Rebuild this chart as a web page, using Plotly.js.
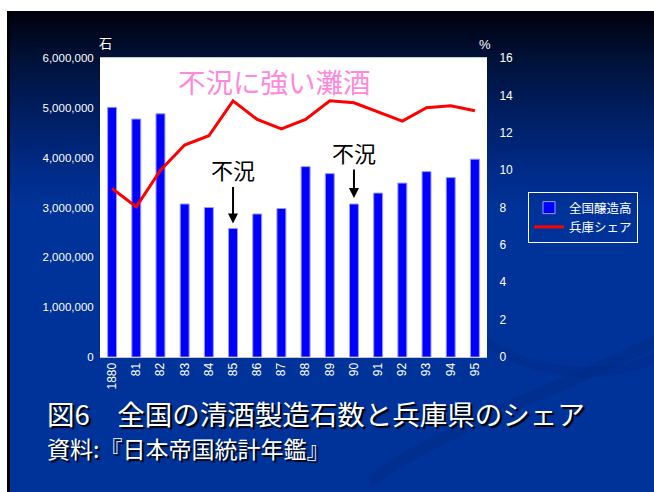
<!DOCTYPE html>
<html>
<head>
<meta charset="utf-8">
<script src="https://cdn.plot.ly/plotly-3.0.1.min.js"></script>
<style>
  html, body { margin: 0; padding: 0; width: 654px; height: 492px; overflow: hidden; background: #ffffff; }
  #bg { position: absolute; left: 7px; top: 11px; width: 647px; height: 481px;
        border-left: 3px solid #000000; box-sizing: border-box;
        background: linear-gradient(to bottom, #00000c 0px, #00123a 50px, #001f66 110px, #002b88 160px, #003399 200px, #003399 100%); }
  #bg svg { position: absolute; left: 0; top: 0; }
  #chart { position: absolute; left: 0; top: 0; width: 654px; height: 492px; }
  .shadowtxt text { text-shadow: 2px 2px 1px #000000; }
</style>
</head>
<body>
<div id="bg">
  <svg width="647" height="481" viewBox="0 0 647 481">
    <path d="M360,470 C430,420 520,390 647,330" stroke="#002b85" stroke-width="12" fill="none" opacity="0.45"/>
    <path d="M470,260 C430,300 470,350 560,360 C600,365 630,355 647,345" stroke="#002b85" stroke-width="10" fill="none" opacity="0.4"/>
  </svg>
</div>
<div id="chart"></div>
<script>
// ---- data ----
const years = ["1880","81","82","83","84","85","86","87","88","89","90","91","92","93","94","95"];
const nationalOutput = [5010000, 4775000, 4880000, 3070000, 3000000, 2580000, 2870000, 2980000,
                        3820000, 3680000, 3070000, 3290000, 3490000, 3720000, 3600000, 3970000];
const hyogoShare = [9.02, 8.03, 10.0, 11.34, 11.84, 13.71, 12.71, 12.2,
                    12.71, 13.71, 13.6, 13.12, 12.62, 13.34, 13.44, 13.18];
const seriesNames = ["全国醸造高", "兵庫シェア"];
const slumpYears = ["85", "90"];

const jp = '"Noto Sans CJK JP", "Noto Sans", sans-serif';
const latin = '"Liberation Sans", Arial, sans-serif';

const traces = [
  {
    type: 'bar', name: seriesNames[0], x: years, y: nationalOutput,
    marker: { color: '#0000ff', line: { color: '#9a9aff', width: 1 } },
    yaxis: 'y'
  },
  {
    type: 'scatter', mode: 'lines', name: seriesNames[1], x: years, y: hyogoShare,
    line: { color: '#ff0000', width: 3 }, yaxis: 'y2'
  }
];

function slumpAnn(yr, ay, standoff) {
  const i = years.indexOf(yr);
  return {
    x: i, y: nationalOutput[i], xref: 'x', yref: 'y',
    text: '不況', showarrow: true, arrowhead: 2, arrowsize: 1, arrowwidth: 2,
    arrowcolor: '#000000', ax: 0, ay: ay, standoff: standoff,
    font: { family: jp, size: 22, color: '#000000' }
  };
}

const layout = {
  width: 654, height: 492,
  margin: { l: 100, r: 167, t: 58, b: 135 },
  paper_bgcolor: 'rgba(0,0,0,0)',
  plot_bgcolor: '#ffffff',
  showlegend: true,
  bargap: 0.63,
  font: { family: latin, color: '#ffffff', size: 11 },
  xaxis: {
    type: 'category', range: [-0.5, years.length - 0.5], autorange: false,
    tickmode: 'array', tickvals: years, ticktext: years,
    tickangle: -90, tickfont: { family: latin, size: 12, color: '#ffffff' },
    showline: true, linecolor: '#c8c8c8', linewidth: 1, mirror: true,
    ticks: '', showgrid: false, zeroline: false
  },
  yaxis: {
    range: [0, 6000000], dtick: 1000000, tickformat: ',d',
    tickfont: { family: latin, size: 11.5, color: '#ffffff' },
    showgrid: false, zeroline: false, showline: false,
    ticks: 'outside', ticklen: 3, tickcolor: 'rgba(0,0,0,0)'
  },
  yaxis2: {
    overlaying: 'y', side: 'right', range: [0, 16], dtick: 2,
    tickfont: { family: latin, size: 12, color: '#ffffff' },
    showgrid: false, zeroline: false, showline: false,
    ticks: 'outside', ticklen: 9, tickcolor: 'rgba(0,0,0,0)'
  },
  legend: {
    xref: 'container', yref: 'container', x: 528 / 654, y: 1 - 192 / 492,
    xanchor: 'left', yanchor: 'top',
    bgcolor: 'rgba(0,0,0,0)', bordercolor: '#ffffff', borderwidth: 1,
    font: { family: jp, size: 12.5, color: '#ffffff' },
    tracegroupgap: 0, itemwidth: 30
  },
  annotations: [
    { xref: 'paper', yref: 'paper', x: 0.452, y: 1.0, xanchor: 'center', yanchor: 'top', yshift: -1,
      text: '不況に強い灘酒', showarrow: false,
      font: { family: jp, size: 27.5, color: '#ff88dd' } },
    slumpAnn(slumpYears[0], -59, 5),
    slumpAnn(slumpYears[1], -52, 6),
    { xref: 'paper', yref: 'paper', x: 0.0, y: 1.0, xanchor: 'center', yanchor: 'bottom', xshift: 5, yshift: 4,
      text: '石', showarrow: false, font: { family: jp, size: 13, color: '#ffffff' } },
    { xref: 'paper', yref: 'paper', x: 1.0, y: 1.0, xanchor: 'center', yanchor: 'bottom', xshift: -2, yshift: 4,
      text: '%', showarrow: false, font: { family: latin, size: 13, color: '#ffffff' } },
    { xref: 'paper', yref: 'paper', x: -55 / 387, y: -56 / 299, xanchor: 'left', yanchor: 'middle',
      text: '図6　全国の清酒製造石数と兵庫県のシェア', showarrow: false,
      font: { family: jp, size: 27.5, color: '#ffffff' } },
    { xref: 'paper', yref: 'paper', x: -55 / 387, y: -91 / 299, xanchor: 'left', yanchor: 'middle',
      text: '資料:『日本帝国統計年鑑』', showarrow: false,
      font: { family: jp, size: 23, color: '#ffffff' } }
  ]
};

Plotly.newPlot('chart', traces, layout, { displayModeBar: false, staticPlot: true }).then(function () {
  document.querySelectorAll('.annotation').forEach(function (g) {
    const idx = g.getAttribute('data-index');
    if (idx === '5' || idx === '6') g.classList.add('shadowtxt');
  });
});
</script>
</body>
</html>
